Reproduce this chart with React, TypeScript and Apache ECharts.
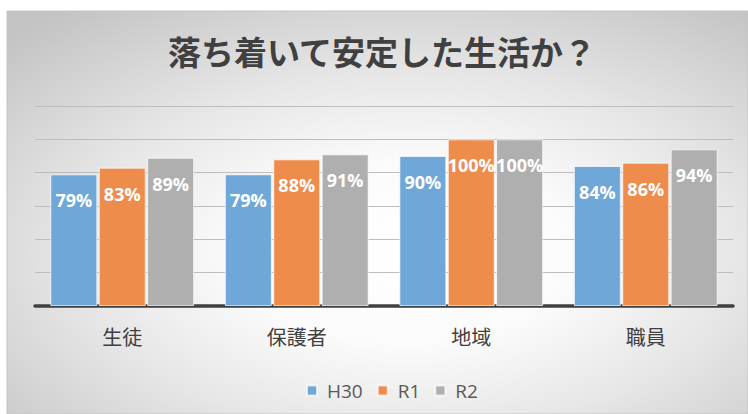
import React, { useEffect, useRef } from "react";
import * as echarts from "echarts";

const categories = ["生徒", "保護者", "地域", "職員"];
const seriesNames = ["H30", "R1", "R2"];
const h30 = [79, 79, 90, 84];
const r1 = [83, 88, 100, 86];
const r2 = [89, 91, 100, 94];
const colors = ["#6fa7d9", "#ee8c4c", "#afafaf"];
const titleText = "落ち着いて安定した生活か？";

export default function App() {
  const ref = useRef<HTMLDivElement>(null);
  useEffect(() => {
    document.body.style.margin = "0";
    const chart = echarts.init(ref.current!, null, { renderer: "svg" });
    const values = [h30, r1, r2];
    chart.setOption({
      animation: false,
      backgroundColor: "#ffffff",
      graphic: [
        {
          type: "rect",
          z: -10,
          silent: true,
          shape: { x: 7, y: 11, width: 741, height: 403 },
          style: {
            fill: {
              type: "radial",
              x: 0.54,
              y: 0.6,
              r: 0.75,
              colorStops: [
                { offset: 0, color: "#ffffff" },
                { offset: 0.3, color: "#fbfbfb" },
                { offset: 0.6, color: "#e6e6e6" },
                { offset: 1, color: "#c4c4c4" },
              ],
            },
            stroke: "#c4c4c4",
            lineWidth: 1,
          },
        },
        {
          type: "text",
          x: 382,
          y: 51,
          style: {
            text: titleText,
            fill: "#404040",
            font: "bold 33px 'Noto Sans CJK JP'",
            align: "center",
            verticalAlign: "middle",
          },
        },
      ],
      grid: { left: 35, right: 15, top: 106, bottom: 108 },
      legend: {
        left: 301,
        top: 376,
        itemWidth: 10,
        itemHeight: 10,
        itemGap: 14,
        icon: "rect",
        data: seriesNames,
        textStyle: {
          color: "#595959",
          fontSize: 19,
          fontFamily: "'Open Sans'",
          padding: [0, 0, 0, 5],
        },
      },
      xAxis: {
        type: "category",
        data: categories,
        axisTick: { show: false },
        axisLine: { show: true, lineStyle: { color: "#404040", width: 3.5 } },
        axisLabel: {
          color: "#404040",
          fontSize: 20,
          margin: 20,
          fontFamily: "'Noto Sans CJK JP'",
        },
      },
      yAxis: {
        type: "value",
        min: 0,
        max: 120,
        interval: 20,
        axisLabel: { show: false },
        axisLine: { show: false },
        axisTick: { show: false },
        splitLine: { lineStyle: { color: "#bdbdbd", width: 1 } },
      },
      series: seriesNames.map((name, i) => ({
        name,
        type: "bar",
        data: values[i],
        barWidth: 47,
        barGap: "3%",
        itemStyle: {
          color: colors[i],
          borderColor: "rgba(255,255,255,0.7)",
          borderWidth: 1,
        },
        label: {
          show: true,
          position: "insideTop",
          distance: 17,
          formatter: "{c}%",
          color: "#ffffff",
          fontSize: 18,
          fontWeight: "bold",
          fontFamily: "'Open Sans'",
        },
      })),
    });
    return () => chart.dispose();
  }, []);
  return <div ref={ref} style={{ width: 748, height: 414 }} />;
}
